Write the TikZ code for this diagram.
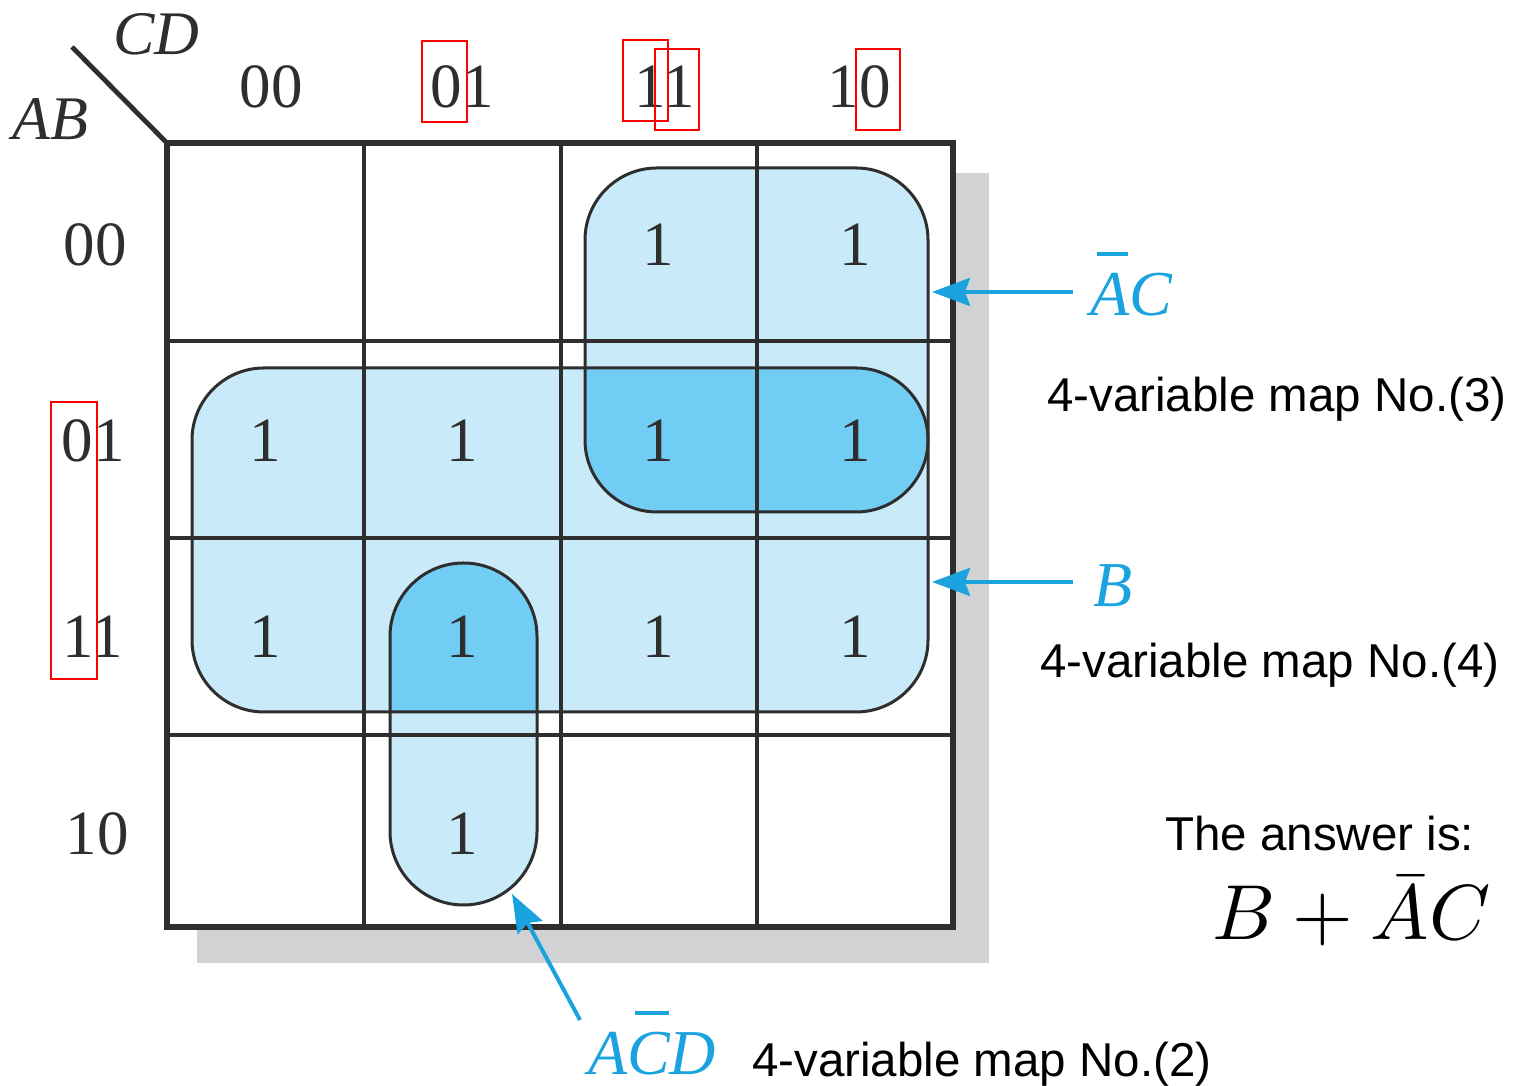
\documentclass[tikz,border=0pt]{standalone}
\usepackage{graphicx}
\usepackage[no-math]{fontspec}
\setmainfont{Liberation Serif}
\newfontfamily\notefont{Liberation Sans}
\usetikzlibrary{arrows.meta}

\definecolor{loopfill}{HTML}{C9EAF9}
\definecolor{overlapfill}{HTML}{72CDF4}
\definecolor{termblue}{HTML}{1BA3E0}
\definecolor{inkgray}{HTML}{2E2E2E}
\definecolor{shadowgray}{HTML}{D1D2D4}

% a letter with a complement bar above it
\newcommand\withbar[1]{\setbox0\hbox{#1}%
  \rlap{\kern0.17\wd0\raisebox{0.93em}{\rule{0.8\wd0}{4pt}}}\box0}

\begin{document}
\begin{tikzpicture}[x=1pt,y=1pt,
  every node/.style={inner sep=0pt},
  mapdigit/.style={font=\fontsize{63}{63}\selectfont, anchor=base, text=inkgray},
  varname/.style={font=\fontsize{62}{62}\selectfont\itshape, anchor=base west, text=inkgray},
  note/.style={font=\notefont\fontsize{47.5}{50}\selectfont, anchor=base west},
  term/.style={text=termblue, font=\fontsize{64}{64}\selectfont\itshape, anchor=base west},
  pointer/.style={draw=termblue, line width=4pt, -{Stealth[length=38pt,width=28pt,inset=5pt]}},
  loopedge/.style={draw=inkgray, line width=3pt},
  gridrule/.style={draw=inkgray, line width=4.8pt},
  markbox/.style={draw=red, line width=2.5pt},
]
\useasboundingbox (0,0) rectangle (1513,1086);

% drop shadow and map background
\fill[shadowgray] (197,123) rectangle (989,913);
\fill[white] (167,159) rectangle (953,943);

% groups: light fills
\fill[loopfill, rounded corners=72pt] (585,574) rectangle (928,918);
\fill[loopfill, rounded corners=72pt] (192,374) rectangle (928,718);
\fill[loopfill] (390,254.5) -- (390,449.5) arc[start angle=180,end angle=0,radius=73.5]
  -- (537,254.5) arc[start angle=0,end angle=-180,radius=73.5] -- cycle;

% overlaps: darker fills
\fill[overlapfill] (585,718) -- (856,718) arc[start angle=90,end angle=-90,radius=72]
  -- (657,574) arc[start angle=270,end angle=180,radius=72] -- cycle;
\fill[overlapfill] (390,374) -- (390,449.5) arc[start angle=180,end angle=0,radius=73.5]
  -- (537,374) -- cycle;

% map grid
\foreach \gx in {364,561,757} \draw[gridrule] (\gx,159) -- (\gx,943);
\foreach \gy in {745,548,351} \draw[gridrule] (167,\gy) -- (953,\gy);
\draw[gridrule, line width=5.8pt] (167,159) rectangle (953,943);
\coordinate (mapcorner) at (167,943);
\coordinate (slashend) at (72,1039);
\draw[gridrule] (slashend) -- (mapcorner);

% group outlines
\draw[loopedge, rounded corners=72pt] (585,574) rectangle (928,918);
\draw[loopedge, rounded corners=72pt] (192,374) rectangle (928,718);
\draw[loopedge] (390,254.5) -- (390,449.5) arc[start angle=180,end angle=0,radius=73.5]
  -- (537,254.5) arc[start angle=0,end angle=-180,radius=73.5] -- cycle;

% variable names
\node[varname] (cdname) at (113,1031) {CD};
\node[varname] (abname) at (12,946) {AB};

% column and row headings
\node[mapdigit] (col00) at (271,978) {00};
\node[mapdigit] (col01) at (462,978) {01};
\node[mapdigit] (col11) at (665,978) {11};
\node[mapdigit] (col10) at (859,978) {10};
\node[mapdigit] (row00) at (95,820) {00};
\node[mapdigit] (row01) at (93,624) {01};
\node[mapdigit] (row11) at (93,428) {11};
\node[mapdigit] (row10) at (97,231) {10};

% cell entries
\node[mapdigit] (m0011) at (658,820) {1};
\node[mapdigit] (m0010) at (855,820) {1};
\node[mapdigit] (m0100) at (265,624) {1};
\node[mapdigit] (m0101) at (462,624) {1};
\node[mapdigit] (m0111) at (658,624) {1};
\node[mapdigit] (m0110) at (855,624) {1};
\node[mapdigit] (m1100) at (265,428) {1};
\node[mapdigit] (m1101) at (462,428) {1};
\node[mapdigit] (m1111) at (658,428) {1};
\node[mapdigit] (m1110) at (855,428) {1};
\node[mapdigit] (m1001) at (462,231) {1};

% highlight boxes around digits
\draw[markbox] (422,1045) rectangle (467,964);
\draw[markbox] (623,1046) rectangle (668,965);
\draw[markbox] (655,1037) rectangle (699,956);
\draw[markbox] (856,1037) rectangle (900,956);
\draw[markbox] (51,684) rectangle (97,407);

% product terms and pointers
\node[term] (acterm) at (1090,770) {\withbar{A}C};
\coordinate (actip) at (932,794);
\draw[pointer, shorten <=17pt] (acterm.west |- actip) -- (actip);

\node[term] (bterm) at (1093,479) {B};
\coordinate (btip) at (932,504);
\draw[pointer, shorten <=20pt] (bterm.west |- btip) -- (btip);

\node[term] (acdterm) at (588,11) {A\withbar{C}D};
\coordinate (acdtail) at (580,66);
\coordinate (acdtip) at (512,192);
\draw[pointer] (acdtail) -- (acdtip);

% notes
\node[note] (note3) at (1047,674) {4-variable map No.(3)};
\node[note] (note4) at (1040,408) {4-variable map No.(4)};
\node[note] (note2) at (752,9) {4-variable map No.(2)};
\node[note] (answerlead) at (1165,235) {The answer is:};
\node[anchor=base west] (answer) at (1212,146) {\scalebox{7.8}{$B+\bar{A}C$}};
\end{tikzpicture}
\end{document}
